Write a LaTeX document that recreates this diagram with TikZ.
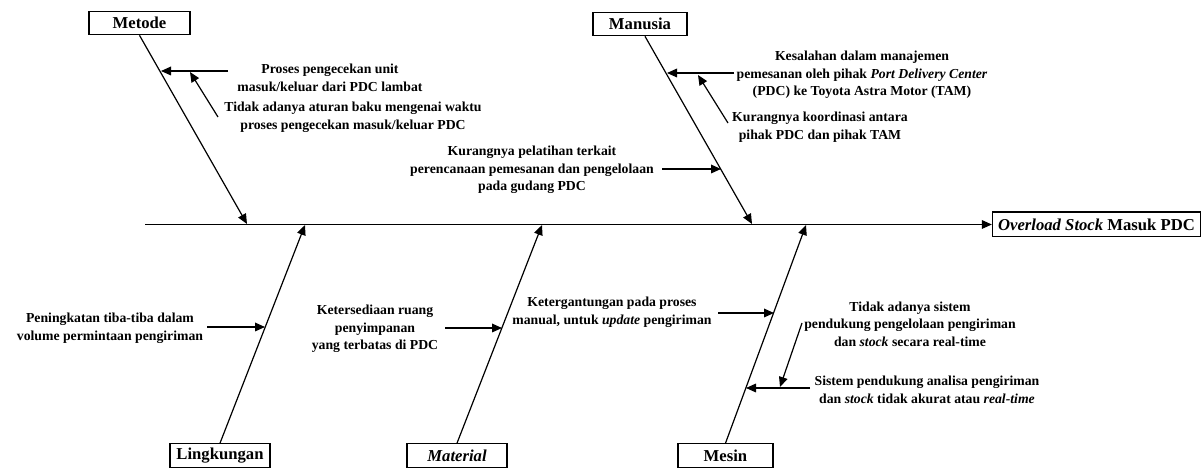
\documentclass[tikz,border=0pt]{standalone}
\usepackage{fontspec}
\setmainfont{Liberation Serif}
\usetikzlibrary{arrows.meta,calc}

\begin{document}
\begin{tikzpicture}[x=0.75pt,y=-0.75pt,
  cat/.style={draw,line width=1pt,minimum height=17.5pt,inner sep=0pt,
    font=\fontsize{12.5}{14}\selectfont\bfseries},
  cause/.style={align=center,inner sep=0pt,
    font=\fontsize{10.3}{13.2}\selectfont\bfseries},
  bone/.style={line width=0.9pt,-{Triangle[length=7.5pt,width=6.5pt]}},
  twig/.style={line width=0.9pt,-{Triangle[length=7.5pt,width=6.5pt]}},
]
\useasboundingbox (0,0) rectangle (1204,470);

% category and effect boxes
\node[cat,minimum width=75.75pt] (metode)  at (139.5,23) {Metode};
\node[cat,minimum width=70.5pt]  (manusia) at (640,24)   {Manusia};
\node[cat,minimum width=75pt]    (lingk)   at (220,455.5) {Lingkungan};
\node[cat,minimum width=75pt]    (mater)   at (457,455.5) {\itshape Material};
\node[cat,minimum width=71.25pt] (mesin)   at (725.5,455.5) {Mesin};
\node[cat,minimum width=156pt,minimum height=18.5pt] (effect) at (1096.5,224.5)
  {\itshape Overload Stock\/ \upshape Masuk PDC};

% spine
\coordinate (tail) at (145,224.5);
\draw[bone] (tail) -- (effect.west);

% bone tips on the spine
\coordinate (tipM) at (247,224);
\coordinate (tipH) at (752,224);
\coordinate (tipL) at (305,225);
\coordinate (tipA) at (542,225);
\coordinate (tipS) at (806,225);
\coordinate (rootH) at ($(manusia.south)+(5,0)$);

\draw[bone] (metode.south) -- (tipM);
\draw[bone] (rootH) -- (tipH);
\draw[bone] (lingk.north) -- (tipL);
\draw[bone] (mater.north) -- (tipA);
\draw[bone] (mesin.north) -- (tipS);

% Metode causes
\node[cause] (m1) at (330,78) {Proses pengecekan unit\\masuk/keluar dari PDC lambat};
\node[cause] (m2) at (353,117) {Tidak adanya aturan baku mengenai waktu\\proses pengecekan masuk/keluar PDC};
\coordinate (m1s) at (228,71);
\coordinate (m1e) at (161,71);
\coordinate (m2s) at (218,117);
\coordinate (m2e) at (190,72);
\draw[twig] (m1s) -- (m1e);
\draw[twig] (m2s) -- (m2e);

% Manusia causes
\node[cause] (h1) at (862,75) {Kesalahan dalam manajemen\\pemesanan oleh pihak \textit{Port Delivery Center}\\(PDC) ke Toyota Astra Motor (TAM)};
\node[cause] (h2) at (820,127) {Kurangnya koordinasi antara\\pihak PDC dan pihak TAM};
\node[cause] (h3) at (532,170) {Kurangnya pelatihan terkait\\perencanaan pemesanan dan pengelolaan\\pada gudang PDC};
\coordinate (h1s) at (734,73);
\coordinate (h1e) at (667,73);
\coordinate (h2s) at (728,123);
\coordinate (h2e) at (698,75);
\coordinate (h3s) at (662,169);
\coordinate (h3e) at (721,169);
\draw[twig] (h1s) -- (h1e);
\draw[twig] (h2s) -- (h2e);
\draw[twig] (h3s) -- (h3e);

% Lingkungan cause
\node[cause] (l1) at (110,328) {Peningkatan tiba-tiba dalam\\volume permintaan pengiriman};
\coordinate (l1s) at (207,327);
\coordinate (l1e) at (265,327);
\draw[twig] (l1s) -- (l1e);

% Material cause
\node[cause] (a1) at (375,329) {Ketersediaan ruang\\penyimpanan\\yang terbatas di PDC};
\coordinate (a1s) at (445,328);
\coordinate (a1e) at (502,328);
\draw[twig] (a1s) -- (a1e);

% Mesin causes
\node[cause] (s1) at (612,312) {Ketergantungan pada proses\\manual, untuk \textit{update} pengiriman};
\node[cause] (s2) at (910,324) {Tidak adanya sistem\\pendukung pengelolaan pengiriman\\dan \textit{stock} secara real-time};
\node[cause] (s3) at (927,390) {Sistem pendukung analisa pengiriman\\dan \textit{stock} tidak akurat atau \textit{real-time}};
\coordinate (s1s) at (718,313);
\coordinate (s1e) at (774,313);
\coordinate (s3s) at (810,388);
\coordinate (s3e) at (746,388);
\coordinate (s2s) at (802,323);
\coordinate (s2e) at (780,387);
\draw[twig] (s1s) -- (s1e);
\draw[twig] (s3s) -- (s3e);
\draw[twig] (s2s) -- (s2e);
\end{tikzpicture}
\end{document}
